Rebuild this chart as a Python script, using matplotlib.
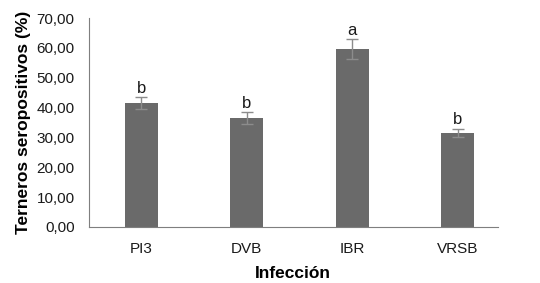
import matplotlib
matplotlib.use("Agg")
import matplotlib.pyplot as plt
import matplotlib.ticker as ticker

# datos del grafico
infecciones = ["PI3", "DVB", "IBR", "VRSB"]
seropositivos = [41.6, 36.5, 59.6, 31.5]
error_std = [1.9, 2.0, 3.3, 1.5]
letras = ["b", "b", "a", "b"]
y_ticks = [0, 10, 20, 30, 40, 50, 60, 70]

plt.rcParams['font.family'] = ['Liberation Sans', 'DejaVu Sans']

fig = plt.figure(figsize=(5.4, 2.83), dpi=100)
ax = fig.add_axes([0.164, 0.198, 0.7577, 0.738])

x = list(range(len(infecciones)))
ax.bar(x, seropositivos, width=0.31, color='#6a6a6a', zorder=2)
ax.errorbar(x, seropositivos, yerr=error_std, fmt='none', ecolor='#8c8c8c',
            elinewidth=1, capsize=4, capthick=1, zorder=3)
for i in x:
    ax.text(i, seropositivos[i] + error_std[i] + 0.5, letras[i],
            ha='center', va='bottom', fontsize=12, color='#1a1a1a')

ax.set_xlim(-0.5, 3.38)
ax.set_ylim(0, 70)
ax.set_yticks(y_ticks)
ax.yaxis.set_major_formatter(ticker.FuncFormatter(lambda v, p: ("%.2f" % v).replace('.', ',')))
ax.set_xticks(x)
ax.set_xticklabels(infecciones)
ax.tick_params(axis='both', length=0, labelsize=11, colors='#1a1a1a')
ax.tick_params(axis='y', pad=10)
ax.tick_params(axis='x', pad=11)

for s in ['top', 'right']:
    ax.spines[s].set_visible(False)
ax.spines['left'].set_color('#7f7f7f')
ax.spines['bottom'].set_color('#7f7f7f')

ax.set_xlabel('Infección', fontsize=12.5, fontweight='bold', labelpad=7)
ax.set_ylabel('Terneros seropositivos (%)', fontsize=12.5, fontweight='bold', labelpad=4)

plt.savefig("out.png", dpi=100)
